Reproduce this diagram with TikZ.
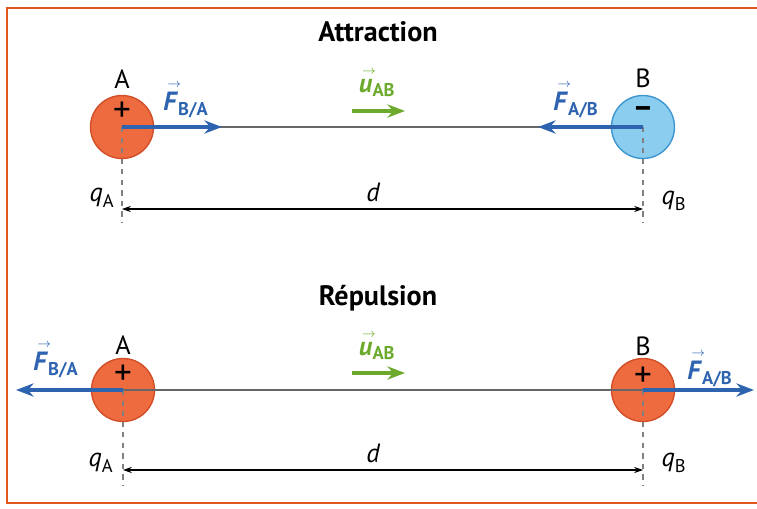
\documentclass[tikz,border=0pt]{standalone}
\usepackage{amsmath}
\usepackage{fontspec}
\setmainfont{PT Sans}
\usetikzlibrary{arrows.meta}
\definecolor{frameorange}{HTML}{E0561F}
\definecolor{plusfill}{HTML}{EE6A3F}
\definecolor{plusline}{HTML}{D24E28}
\definecolor{minusfill}{HTML}{8ACDEE}
\definecolor{minusline}{HTML}{3F96D0}
\definecolor{forceblue}{HTML}{2E63B0}
\definecolor{unitgreen}{HTML}{6BAA2C}

\newcommand{\vecsub}[2]{$\overset{\scriptscriptstyle\kern2pt\rightarrow\kern-2pt}{\text{\textit{#1}}}_{\text{\bfseries #2}}$}
\newcommand{\qsub}[1]{$\text{\itshape q}_{\textup{#1}}$}

\begin{document}
\begin{tikzpicture}[x=0.02cm, y=-0.02cm, >=Stealth,
  charge/.style={circle, minimum size=1.26cm, inner sep=0pt, line width=0.8pt},
  force/.style={forceblue, line width=1.8pt, -{Stealth[length=10pt,width=7.5pt]}},
  unitvec/.style={unitgreen, line width=1.8pt, -{Stealth[length=10pt,width=7.5pt]}},
  axis/.style={gray!80!black, line width=0.6pt},
  guide/.style={gray, dashed, line width=0.8pt},
  dist/.style={black, line width=0.6pt, {Stealth[length=5pt,width=3.5pt]}-{Stealth[length=5pt,width=3.5pt]}},
  title/.style={font=\fontsize{16}{18}\selectfont\bfseries},
  lbl/.style={font=\fontsize{15}{17}\selectfont},
  sign/.style={inner sep=0pt, font=\fontsize{20}{20}\selectfont},
  flbl/.style={forceblue, inner sep=1pt, font=\fontsize{15}{17}\selectfont\bfseries},
  ulbl/.style={unitgreen, inner sep=1pt, font=\fontsize{15}{17}\selectfont\bfseries},
  qlbl/.style={font=\fontsize{15}{17}\selectfont\itshape}]
  \useasboundingbox (0,0) rectangle (757,509);
  \draw[frameorange, line width=1.6pt] (757,8) -- (7,8) -- (7,503) -- (757,503);

  % Attraction
  \node[title] (att) at (378,32) {Attraction};
  \node[charge, fill=plusfill, draw=plusline] (A1) at (122,127) {};
  \node[charge, fill=minusfill, draw=minusline] (B1) at (643,127) {};
  \node[lbl] (nA1) at (122,79) {A};
  \node[lbl] (nB1) at (643,78) {B};
  \node[sign] (sA1) at (122,112) {+};
  \node[sign, font=\fontsize{18}{18}\selectfont\bfseries] (sB1) at (643,112) {–};
  \coordinate (fba1) at (222,127);
  \coordinate (fab1) at (538,127);
  \coordinate (gA1) at (122,223);
  \coordinate (gB1) at (643,223);
  \coordinate (dA1) at (122,209);
  \coordinate (dB1) at (643,209);
  \coordinate (u1s) at (352,111);
  \coordinate (u1e) at (405,111);
  \draw[axis] (A1.center) -- (B1.center);
  \draw[guide] (A1.center) -- (gA1);
  \draw[guide] (B1.center) -- (gB1);
  \draw[force] (A1.center) -- (fba1);
  \draw[force] (B1.center) -- (fab1);
  \draw[dist] (dA1) -- (dB1);
  \draw[unitvec] (u1s) -- (u1e);
  \node[flbl] (lba1) at (186,99) {\vecsub{F}{B/A}};
  \node[flbl] (lab1) at (576,99) {\vecsub{F}{A/B}};
  \node[ulbl] (lu1) at (377,82) {\vecsub{u}{AB}};
  \node[qlbl] (d1) at (373,192) {d};
  \node[qlbl] (qA1) at (102,198) {\qsub{A}};
  \node[qlbl] (qB1) at (674,201) {\qsub{B}};

  % Repulsion
  \node[title] (rep) at (378,298) {Répulsion};
  \node[charge, fill=plusfill, draw=plusline] (A2) at (123,390) {};
  \node[charge, fill=plusfill, draw=plusline] (B2) at (643,390) {};
  \node[lbl] (nA2) at (123,345) {A};
  \node[lbl] (nB2) at (643,346) {B};
  \node[sign] (sA2) at (123,375) {+};
  \node[sign] (sB2) at (643,377) {+};
  \coordinate (fba2) at (16,390);
  \coordinate (fab2) at (754,390);
  \coordinate (gA2) at (123,486);
  \coordinate (gB2) at (643,486);
  \coordinate (dA2) at (123,470);
  \coordinate (dB2) at (643,470);
  \coordinate (u2s) at (352,373);
  \coordinate (u2e) at (405,373);
  \draw[axis] (A2.center) -- (B2.center);
  \draw[guide] (A2.center) -- (gA2);
  \draw[guide] (B2.center) -- (gB2);
  \draw[force] (A2.center) -- (fba2);
  \draw[force] (B2.center) -- (fab2);
  \draw[dist] (dA2) -- (dB2);
  \draw[unitvec] (u2s) -- (u2e);
  \node[flbl] (lba2) at (56,359) {\vecsub{F}{B/A}};
  \node[flbl] (lab2) at (710,368) {\vecsub{F}{A/B}};
  \node[ulbl] (lu2) at (377,345) {\vecsub{u}{AB}};
  \node[qlbl] (d2) at (373,453) {d};
  \node[qlbl] (qA2) at (101,463) {\qsub{A}};
  \node[qlbl] (qB2) at (674,463) {\qsub{B}};
\end{tikzpicture}
\end{document}
